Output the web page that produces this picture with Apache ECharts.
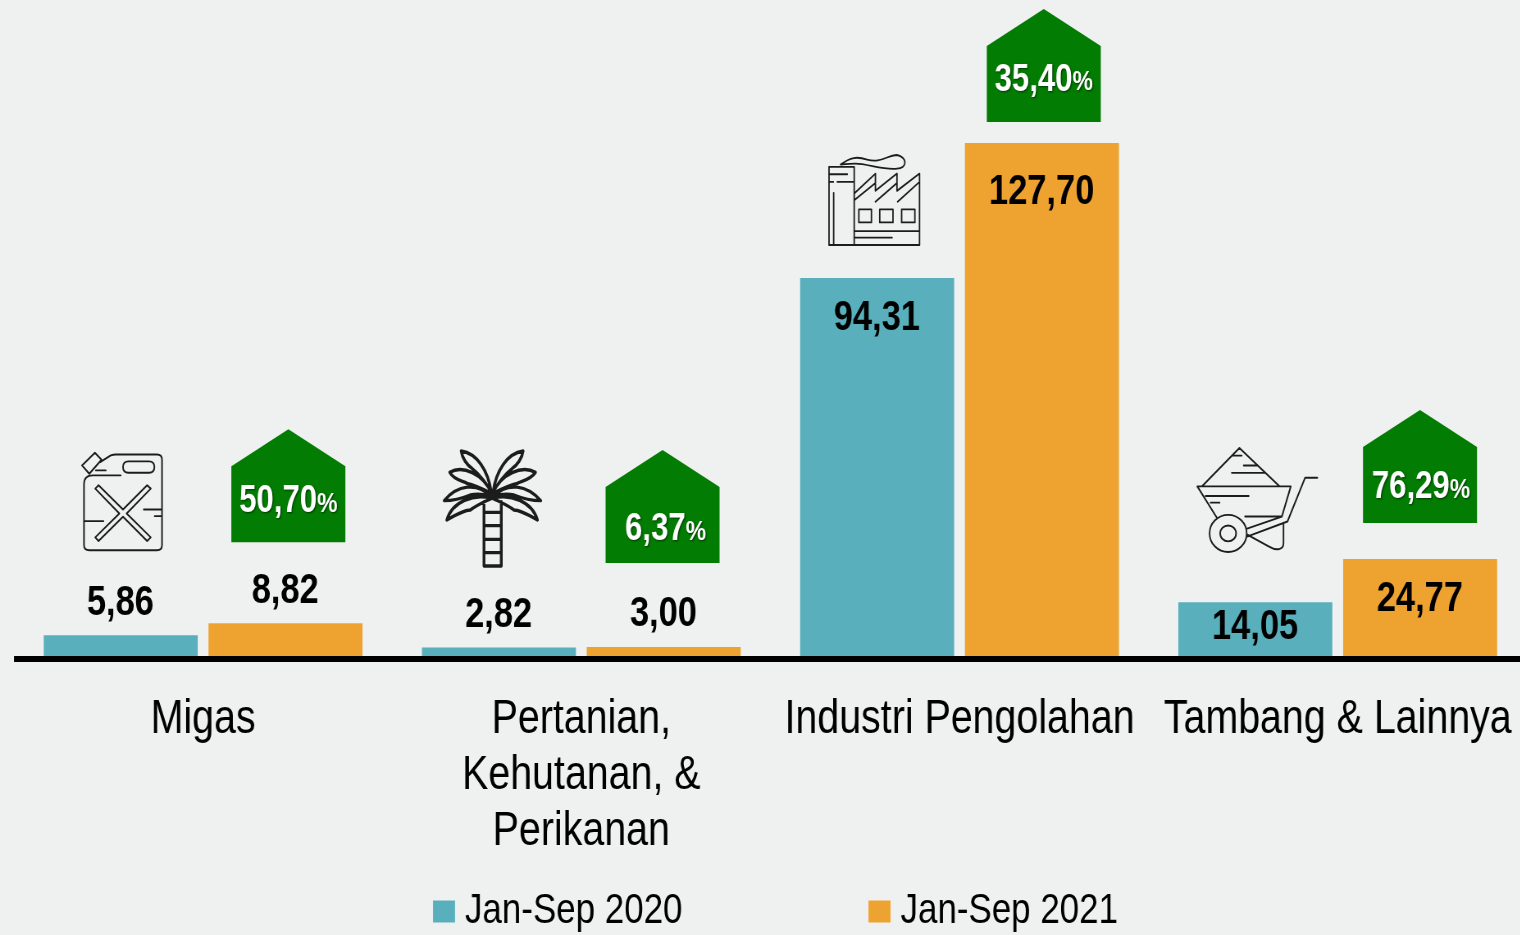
<!DOCTYPE html>
<html><head><meta charset="utf-8">
<style>html,body{margin:0;padding:0;background:#EFF1F1;overflow:hidden;width:1520px;height:935px}
#c{height:935px;transform-origin:0 0;position:absolute;left:0;top:0}</style>
<script src="https://cdn.jsdelivr.net/npm/echarts@6/dist/echarts.min.js"></script>
</head><body><div id="c"></div>
<script>
const categories = ['Migas', 'Pertanian,\nKehutanan, &\nPerikanan', 'Industri Pengolahan', 'Tambang & Lainnya'];
const seriesNames = ['Jan-Sep 2020', 'Jan-Sep 2021'];
const values2020 = [5.86, 2.82, 94.31, 14.05];
const values2021 = [8.82, 3.00, 127.70, 24.77];
const growth = ['50,70', '6,37', '35,40', '76,29'];

// The reference uses a condensed face; no such font is installed, so the whole
// chart is laid out wider and condensed horizontally with a CSS transform.
const SX = 0.82;
const px = v => v / SX;
const box = document.getElementById('c');
box.style.width = px(1527) + 'px';
box.style.transform = 'scaleX(' + SX + ')';

// Layout of labels and badges (styling only)
const place2020 = [['top', 11], ['top', 11], ['insideTop', 19], ['insideTop', 4]];
const place2021 = [['top', 11], ['top', 11], ['insideTop', 28], ['insideTop', 19]];
const badgeGap = [81, 84, 21, 36];
const badgeShift = [3, -1, 2, 0];
const badgeTextRise = [41, 33, 42, 35];
const badgeTextShift = [0, 3, 0, 1];

const fmt = v => v.toFixed(2).replace('.', ',');
const FONT = '"Liberation Sans",sans-serif';
const items = (vals, places) => vals.map((v, i) => ({
  value: v,
  label: {position: places[i][0], distance: places[i][1]}
}));
const valueLabel = {show: true, formatter: p => fmt(p.value), color: '#000', fontFamily: FONT,
  fontWeight: 'bold', fontSize: 42, offset: [px(-0.3), 0]};

const canPath = 'M118 125 L150 105 Q158 102 165 102 L290 102 Q305 102 305 118 L305 375 Q305 391 290 391 L85 391 Q69 391 69 375 L69 192 Q69 165 95 165 L180 165 '
 + 'M105 150 L135 150 M63 135 L102 97 L122 118 L85 160 Z '
 + 'M203 123 L266 123 Q282 123 282 140 Q282 157 266 157 L203 157 Q187 157 187 140 Q187 123 203 123 Z '
 + 'M103 205 L113 195 L187 268 L260 195 L271 205 L198 280 L271 352 L260 363 L187 290 L113 363 L103 352 L176 280 Z '
 + 'M250 268 L305 268 M283 288 L305 288 M69 303 L128 303';
const palmPath = 'M192 215 L192 408 L245 408 L245 215 M192 247 L245 247 M192 287 L245 287 M192 328 L245 328 M192 368 L245 368 '
 + 'M215 190 C205 120 170 70 122 63 C125 85 140 105 155 115 C175 130 205 165 215 190 Z '
 + 'M219 190 C229 120 264 70 312 63 C309 85 294 105 279 115 C259 130 229 165 219 190 Z '
 + 'M215 190 C190 130 125 105 87 127 C100 150 125 152 140 160 C165 165 195 180 215 190 Z '
 + 'M219 190 C244 130 309 105 350 127 C334 150 309 152 294 160 C269 165 239 180 219 190 Z '
 + 'M215 200 C170 155 110 165 70 212 C100 212 125 205 150 195 C175 190 200 195 215 200 Z '
 + 'M219 200 C264 155 324 165 366 212 C334 212 309 205 284 195 C259 190 234 195 219 200 Z '
 + 'M215 205 C160 190 95 215 78 270 C105 255 130 240 150 240 C170 225 195 215 215 205 Z '
 + 'M219 205 C274 190 339 215 356 270 C329 255 304 240 284 240 C264 225 239 215 219 205 Z';
const factoryPath = 'M85 500 L161 500 L161 735 M85 735 L85 500 M85 522 L140 522 M110 545 L161 545 M85 545 L98 545 M99 578 L99 735 '
 + 'M120 493 C150 470 170 468 200 478 C240 490 260 465 290 464 C322 470 322 505 290 505 C250 510 200 490 165 490 C150 490 140 491 120 493 '
 + 'M161 580 L225 520 L225 572 L290 520 L290 572 L358 520 L358 735 '
 + 'M161 600 L225 548 M225 605 L290 548 M292 605 L358 545 '
 + 'M175 628 L213 628 L213 667 L175 667 Z M238 628 L278 628 L278 667 L238 667 Z M304 628 L344 628 L344 667 L304 667 Z '
 + 'M161 693 L358 693 M161 713 L275 713 M85 735 L358 735';
const barrowPath = 'M95 258 L207 143 L327 258 M80 259 L362 259 M80 259 L140 355 M362 259 L335 350 '
 + 'M442 233 L405 233 L352 365 L232 410 M228 387 L335 350 '
 + 'M188 166 L214 166 M220 196 L260 196 M184 218 L283 218 M105 288 L235 288 M120 308 L147 308 M224 350 L333 350 '
 + 'M117 401 A56 56 0 1 1 229 401 A56 56 0 1 1 117 401 Z M149 401 A24 24 0 1 1 197 401 A24 24 0 1 1 149 401 Z '
 + 'M232 405 L295 440 C320 455 340 450 340 430 L340 370';
// Icon artwork and where it sits on the page
const icons = [
  {d: canPath, rect: [82, 452.8, 80, 97.5], lw: 1.9},
  {d: palmPath, rect: [444.2, 451, 96.5, 115], lw: 3.4},
  {d: factoryPath, rect: [829, 155, 90.5, 90], lw: 1.8},
  {d: barrowPath, rect: [1197.3, 448, 120, 104], lw: 1.9}
];

const chart = echarts.init(box);
const badgeText = {fontFamily: FONT, fontWeight: 'bold', fill: '#fff', textShadowColor: 'rgba(0,0,0,0.55)', textShadowBlur: 2, textShadowOffsetX: 1, textShadowOffsetY: 1};
chart.setOption({
  animation: false,
  backgroundColor: '#EFF1F1',
  grid: {left: px(14), right: 0, top: 12.6, bottom: 276, containLabel: false, outerBoundsMode: 'none'},
  xAxis: {type: 'category', data: categories, z: 10,
    axisLine: {show: true, onZero: true, lineStyle: {color: '#000', width: 6, cap: 'butt'}},
    axisTick: {show: false},
    axisLabel: {interval: 0, hideOverlap: false, color: '#000', fontFamily: FONT, fontSize: 48, lineHeight: 56, margin: 33}},
  yAxis: {type: 'value', min: 0, max: 160, show: false, splitLine: {show: false}},
  legend: {data: seriesNames, left: px(433), top: 890, padding: 0, itemWidth: px(22), itemHeight: 22, itemGap: px(186),
    icon: 'rect', textStyle: {color: '#000', fontFamily: FONT, fontSize: 42.6, padding: [8, 0, 0, px(10) - 5]}},
  series: [
    {name: seriesNames[0], type: 'bar', barWidth: px(154), barGap: '7%', data: items(values2020, place2020),
      itemStyle: {color: '#59AFBB'}, label: valueLabel},
    {name: seriesNames[1], type: 'bar', barWidth: px(154), data: items(values2021, place2021),
      itemStyle: {color: '#EEA331'}, label: valueLabel},
    {name: 'Pertumbuhan', type: 'custom', coordinateSystem: 'cartesian2d', z: 12, silent: true,
      data: values2021.map((v, i) => [i, v]),
      encode: {x: 0, y: 1},
      renderItem: (params, api) => {
        const i = api.value(0);
        const pt = api.coord([i, api.value(1)]);
        const cx = pt[0] + px(82.25 + badgeShift[i]);
        const hw = px(57);
        const bottom = pt[1] - badgeGap[i];
        return {type: 'group', children: [
          {type: 'polygon', shape: {points: [[cx - hw, bottom], [cx - hw, bottom - 76], [cx, bottom - 113], [cx + hw, bottom - 76], [cx + hw, bottom]]},
            style: {fill: '#027C02'}},
          {type: 'text', x: cx + px(badgeTextShift[i]), y: bottom - badgeTextRise[i],
            style: {
              text: '{n|' + growth[i] + '}{p|%}', align: 'center', verticalAlign: 'middle',
              rich: {
                n: Object.assign({fontSize: 38}, badgeText),
                p: Object.assign({fontSize: 28, padding: [5, 0, 0, 0]}, badgeText)
              }
            }}
        ]};
      }},
    {name: 'Ikon', type: 'custom', coordinateSystem: 'cartesian2d', z: 12, silent: true,
      data: categories.map((c, i) => [i, 0]),
      encode: {x: 0, y: 1},
      renderItem: (params, api) => {
        const ic = icons[api.value(0)];
        return {type: 'path',
          shape: {pathData: ic.d, x: px(ic.rect[0]), y: ic.rect[1], width: px(ic.rect[2]), height: ic.rect[3], layout: 'cover'},
          style: {fill: 'none', stroke: '#1c1c1c', lineWidth: ic.lw, lineCap: 'round', lineJoin: 'round'}};
      }}
  ]
});
</script></body></html>
